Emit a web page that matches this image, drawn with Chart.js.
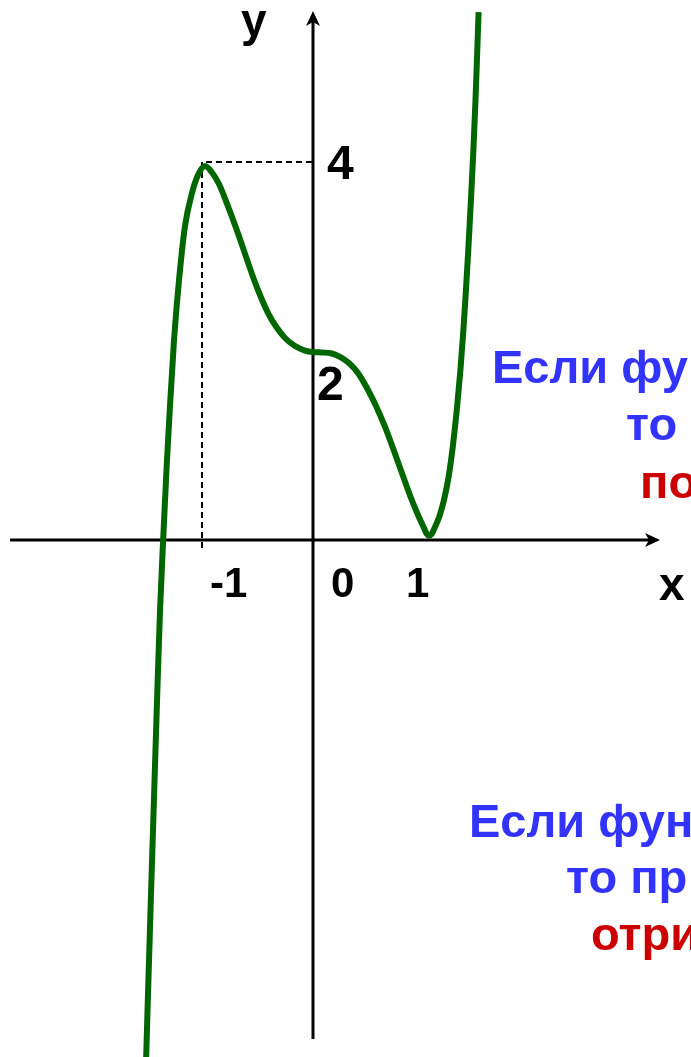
<!DOCTYPE html>
<html lang="ru">
<head>
<meta charset="utf-8">
<script src="https://cdn.jsdelivr.net/npm/chart.js@4"></script>
<style>
  html, body { margin: 0; padding: 0; background: #fff; overflow: hidden; }
  #wrap { position: relative; width: 691px; height: 1057px; }
  .note { position: absolute; font: bold 47px "Liberation Sans", Arial, sans-serif; line-height: 1; white-space: nowrap; }
  .blue { color: #3333ff; }
  .red { color: #cc0000; }
</style>
</head>
<body>
<div id="wrap">
  <canvas id="chart"></canvas>
  <!-- подписи справа (обрезаны краем слайда) -->
  <div class="note blue" style="left:492px;top:343px">Если фу</div>
  <div class="note blue" style="left:626px;top:400px">то</div>
  <div class="note red" style="left:640px;top:458px">по</div>
  <div class="note blue" style="left:469px;top:797px">Если фун</div>
  <div class="note blue" style="left:566px;top:853px">то пр</div>
  <div class="note red" style="left:591px;top:910px">отри</div>
</div>
<script>
// точки графика
const curveX = [-1.505, -1.488, -1.461, -1.433, -1.405, -1.378, -1.350, -1.320, -1.288, -1.252,
  -1.207, -1.153, -1.090, -1.036, -0.973, -0.910, -0.847, -0.784, -0.721, -0.658,
  -0.595, -0.532, -0.468, -0.405, -0.333, -0.252, -0.162, -0.072, 0.000, 0.081,
  0.162, 0.243, 0.324, 0.405, 0.486, 0.568, 0.649, 0.730, 0.811, 0.883,
  0.946, 1.000, 1.024, 1.048, 1.071, 1.095, 1.140, 1.180, 1.223, 1.261,
  1.297, 1.328, 1.355, 1.378, 1.399, 1.423, 1.445, 1.464, 1.480, 1.492];
const curveY = [-5.556, -4.868, -3.810, -2.751, -1.693, -0.741, 0.000, 0.741, 1.429, 2.116,
  2.751, 3.323, 3.672, 3.862, 3.958, 3.889, 3.767, 3.587, 3.392, 3.185,
  2.968, 2.757, 2.566, 2.402, 2.259, 2.138, 2.053, 2.005, 1.989, 1.984,
  1.976, 1.937, 1.873, 1.767, 1.608, 1.418, 1.196, 0.942, 0.677, 0.444,
  0.265, 0.127, 0.067, 0.048, 0.067, 0.127, 0.254, 0.423, 0.677, 1.005,
  1.397, 1.799, 2.222, 2.646, 3.069, 3.598, 4.127, 4.656, 5.185, 5.587];

// подписи на осях
const xTickValues = [-1, 0, 1];
const xTickLabels = ["-1", "0", "1"];
const yTickValues = [4, 2];
const yTickLabels = ["4", "2"];

// точка максимума (пунктир)
const peakX = -1;
const peakY = 4;

const points = curveX.map((v, i) => ({ x: v, y: curveY[i] }));

function arrow(ctx, tx, ty, dir) {
  // наконечник стрелки, dir: "right" или "up"
  ctx.beginPath();
  if (dir === "right") {
    ctx.moveTo(tx, ty);
    ctx.lineTo(tx - 15, ty - 7);
    ctx.lineTo(tx - 11, ty);
    ctx.lineTo(tx - 15, ty + 7);
  } else {
    ctx.moveTo(tx, ty);
    ctx.lineTo(tx - 7, ty + 15);
    ctx.lineTo(tx, ty + 11);
    ctx.lineTo(tx + 7, ty + 15);
  }
  ctx.closePath();
  ctx.fill();
}

const axesPlugin = {
  id: "axes",
  beforeDatasetsDraw(chart) {
    const { ctx, scales: { x, y } } = chart;
    const x0 = x.getPixelForValue(0);
    const y0 = y.getPixelForValue(0);
    ctx.save();
    ctx.strokeStyle = "#000";
    ctx.fillStyle = "#000";

    // пунктир к максимуму
    const px = x.getPixelForValue(peakX);
    const py = y.getPixelForValue(peakY);
    ctx.lineWidth = 2;
    ctx.setLineDash([6, 4]);
    ctx.beginPath();
    ctx.moveTo(px, y0 + 8);
    ctx.lineTo(px, py);
    ctx.lineTo(x0, py);
    ctx.stroke();
    ctx.setLineDash([]);

    // оси
    ctx.lineWidth = 3;
    ctx.beginPath();
    ctx.moveTo(10, y0);
    ctx.lineTo(650, y0);
    ctx.moveTo(x0, 1039);
    ctx.lineTo(x0, 22);
    ctx.stroke();
    arrow(ctx, 660, y0, "right");
    arrow(ctx, x0, 11, "up");
    ctx.restore();
  },
  afterDraw(chart) {
    const { ctx, scales: { x, y } } = chart;
    const x0 = x.getPixelForValue(0);
    const y0 = y.getPixelForValue(0);
    ctx.save();
    ctx.fillStyle = "#000";
    ctx.textAlign = "left";
    ctx.textBaseline = "alphabetic";

    ctx.font = "bold 42px 'Liberation Sans', Arial, sans-serif";
    const dx = [8, 18, -18];
    xTickValues.forEach((v, i) => {
      ctx.fillText(xTickLabels[i], x.getPixelForValue(v) + dx[i], y0 + 57);
    });

    ctx.font = "bold 48px 'Liberation Sans', Arial, sans-serif";
    const off = [[14, 17], [4, 49]];
    yTickValues.forEach((v, i) => {
      ctx.fillText(yTickLabels[i], x0 + off[i][0], y.getPixelForValue(v) + off[i][1]);
    });

    ctx.font = "bold 46px 'Liberation Sans', Arial, sans-serif";
    ctx.fillText("x", 659, y0 + 60);
    ctx.fillText("y", x0 - 72, 36);
    ctx.restore();
  }
};

const ctx = document.getElementById("chart").getContext("2d");
const chart = new Chart(ctx, {
  type: "scatter",
  data: {
    datasets: [
      {
        data: points,
        showLine: true,
        borderColor: "#006600",
        borderWidth: 6,
        pointRadius: 0,
        cubicInterpolationMode: "monotone",
        fill: false,
        clip: false,
      },
    ],
  },
  options: {
    responsive: true,
    maintainAspectRatio: false,
    animation: false,
    layout: { padding: 0 },
    plugins: {
      legend: { display: false },
      tooltip: { enabled: false },
    },
    scales: {
      x: { type: "linear", display: false, min: -313 / 111, max: 378 / 111 },
      y: { type: "linear", display: false, min: -517 / 94.5, max: 540 / 94.5 },
    },
  },
  plugins: [axesPlugin],
});
</script>
</body>
</html>
